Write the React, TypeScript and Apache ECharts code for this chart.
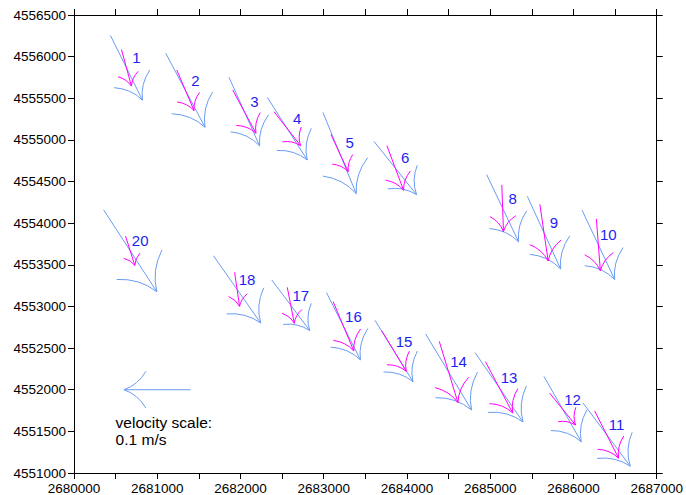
import React, { useEffect, useRef } from "react";
import * as echarts from "echarts";

// Station ids, positions (m) and velocities (cm/s)
const stationIds = [1, 2, 3, 4, 5, 6, 8, 9, 10, 20, 18, 17, 16, 15, 14, 13, 12, 11];
const stationX = [2680630, 2681338, 2682046, 2682562, 2683190, 2683859, 2685149, 2685646, 2686299, 2680675, 2681959, 2682604, 2683237, 2683844, 2684500, 2685106, 2685869, 2686398];
const stationY = [4555866, 4555596, 4555340, 4555135, 4554843, 4554663, 4554180, 4553886, 4553740, 4553669, 4553205, 4553014, 4552762, 4552465, 4552213, 4552029, 4551768, 4551462];
const blueU = [4.8, 5.9, 4.6, 6.0, 5.0, 6.4, 4.8, 5.0, 4.9, 8.0, 7.1, 5.7, 5.1, 5.7, 6.9, 7.2, 5.6, 7.1];
const blueV = [-9.7, -11.1, -10.3, -9.4, -12.2, -8.0, -10.1, -10.9, -10.4, -12.3, -10.1, -7.6, -10.1, -9.2, -11.4, -10.4, -9.8, -9.5];
const magU = [1.5, 2.6, 3.5, 4.0, 2.6, 2.5, 0.25, 1.25, 0.6, 1.4, 0.75, 1.05, 3.1, 3.7, 2.8, 4.1, 3.9, 3.6];
const magV = [-5.5, -6.1, -6.5, -5.1, -5.6, -6.7, -7.0, -8.5, -7.8, -4.4, -5.1, -5.4, -7.4, -6.1, -9.2, -7.7, -4.8, -7.1];

// velocity scale arrow: 0.1 m/s = 10 cm/s westward
const scaleArrow = [[2681000, 4552000, -10, 0]];
const scaleText = "velocity scale:\n0.1 m/s";
const scaleTextPos = [2680500, 4551500];

const xTicks = { min: 2680000, max: 2687000, interval: 1000 };
const yTicks = { min: 4551000, max: 4556500, interval: 500 };

const M_PER_CMS = 80; // data metres per cm/s of arrow length
const BLUE = "#6a9cf2";
const MAGENTA = "#ff00ff";
const LABEL_BLUE = "#1e1ef0";
const FONT = "Liberation Sans, Arial, Helvetica, sans-serif";

function arrowChildren(tail: number[], tip: number[], color: string) {
  const dx = tail[0] - tip[0];
  const dy = tail[1] - tip[1];
  const L = Math.hypot(dx, dy) || 1;
  const bx = dx / L;
  const by = dy / L;
  const Lb = 0.43 * L;
  const rot = (a: number) => [bx * Math.cos(a) - by * Math.sin(a), bx * Math.sin(a) + by * Math.cos(a)];
  const style = { stroke: color, lineWidth: 1, fill: null as any };
  const children: any[] = [
    { type: "line", shape: { x1: tail[0], y1: tail[1], x2: tip[0], y2: tip[1] }, style },
  ];
  for (const s of [1, -1]) {
    const e = rot((s * 40 * Math.PI) / 180);
    const c = rot((s * 19 * Math.PI) / 180);
    children.push({
      type: "bezierCurve",
      shape: {
        x1: tip[0],
        y1: tip[1],
        x2: tip[0] + e[0] * Lb,
        y2: tip[1] + e[1] * Lb,
        cpx1: tip[0] + c[0] * Lb * 0.52,
        cpy1: tip[1] + c[1] * Lb * 0.52,
      },
      style,
    });
  }
  return children;
}

function makeRender(color: string) {
  return (params: any, api: any) => {
    const x = api.value(0);
    const y = api.value(1);
    const u = api.value(2);
    const v = api.value(3);
    const h = M_PER_CMS / 2;
    const tail = api.coord([x - u * h, y - v * h]);
    const tip = api.coord([x + u * h, y + v * h]);
    return { type: "group", children: arrowChildren(tail, tip, color) };
  };
}

export default function App() {
  const ref = useRef<HTMLDivElement>(null);
  useEffect(() => {
    if (!ref.current) return;
    const chart = echarts.init(ref.current, undefined, { renderer: "svg" });
    const blueData = stationIds.map((_, i) => [stationX[i], stationY[i], blueU[i], blueV[i]]);
    const magData = stationIds.map((_, i) => [stationX[i], stationY[i], magU[i], magV[i]]);
    const labelData = stationIds.map((id, i) => [stationX[i], stationY[i], id]);

    const axisLine = { show: true, lineStyle: { color: "#000", width: 1 } };
    const tick = { show: true, length: 6, inside: false, lineStyle: { color: "#000", width: 1 } };
    const minor = { show: true, splitNumber: 2, length: 6, lineStyle: { color: "#000", width: 1 } };
    const label = { color: "#000", fontSize: 13.5, fontFamily: FONT, margin: 8, formatter: (v: number) => String(v) };

    chart.setOption({
      animation: false,
      backgroundColor: "#fff",
      grid: { left: 74, right: 26, top: 15, bottom: 22, containLabel: false },
      xAxis: [
        { type: "value", position: "bottom", ...xTicks, axisLine, axisTick: tick, minorTick: minor, splitLine: { show: false }, axisLabel: label },
        { type: "value", position: "top", ...xTicks, axisLine, axisTick: tick, minorTick: minor, splitLine: { show: false }, axisLabel: { show: false } },
      ],
      yAxis: [
        { type: "value", position: "left", ...yTicks, axisLine, axisTick: tick, splitLine: { show: false }, axisLabel: label },
        { type: "value", position: "right", ...yTicks, axisLine, axisTick: tick, splitLine: { show: false }, axisLabel: { show: false } },
      ],
      series: [
        { type: "custom", xAxisIndex: 0, yAxisIndex: 0, renderItem: makeRender(BLUE), data: blueData, silent: true },
        { type: "custom", xAxisIndex: 0, yAxisIndex: 0, renderItem: makeRender(MAGENTA), data: magData, silent: true },
        { type: "custom", xAxisIndex: 0, yAxisIndex: 0, renderItem: makeRender(BLUE), data: scaleArrow, silent: true },
        {
          type: "custom",
          xAxisIndex: 0,
          yAxisIndex: 0,
          silent: true,
          data: labelData,
          renderItem: (params: any, api: any) => {
            const p = api.coord([api.value(0), api.value(1)]);
            return {
              type: "text",
              x: p[0] + 10,
              y: p[1] - 10,
              style: { text: String(api.value(2)), fill: LABEL_BLUE, font: `15px ${FONT}`, textAlign: "center", textVerticalAlign: "middle" },
            };
          },
        },
        {
          type: "custom",
          xAxisIndex: 0,
          yAxisIndex: 0,
          silent: true,
          data: [scaleTextPos],
          renderItem: (params: any, api: any) => {
            const p = api.coord([api.value(0), api.value(1)]);
            return {
              type: "text",
              x: p[0],
              y: p[1],
              style: { text: scaleText, fill: "#000", font: `15.5px ${FONT}`, textAlign: "left", textVerticalAlign: "middle", lineHeight: 17 },
            };
          },
        },
      ],
    });
    return () => chart.dispose();
  }, []);
  return <div ref={ref} style={{ position: "absolute", left: 0, top: 0, width: 686, height: 495 }} />;
}
